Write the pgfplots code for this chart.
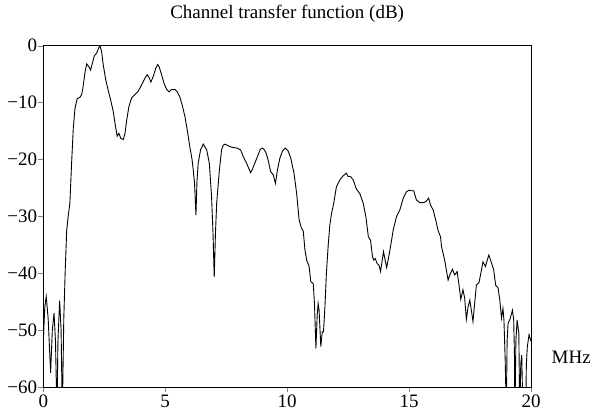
\documentclass[border=0pt]{standalone}
\usepackage{pgfplots}
\pgfplotsset{compat=1.18}
\usepackage{fontspec}
\setmainfont{Liberation Serif}

\begin{document}
\begin{tikzpicture}
\path[use as bounding box] (-43.3bp,-28bp) rectangle (549.7bp,387bp);
\begin{axis}[
  scale only axis, width=487.7bp, height=341.3bp,
  at={(0,0)}, anchor=south west,
  xmin=0, xmax=20, ymin=-60, ymax=0,
  xtick={0,5,10,15,20}, xticklabels={0,5,10,15,20},
  ytick={-60,-50,-40,-30,-20,-10,0},
  yticklabels={−60,−50,−40,−30,−20,−10,0},
  tick align=outside, major tick length=5bp,
  xtick pos=bottom, ytick pos=left,
  ticklabel style={font=\fontsize{19bp}{22bp}\selectfont, inner sep=1bp},
  xticklabel style={yshift=-2bp},
  title={Channel transfer function (dB)},
  title style={font=\fontsize{19bp}{22bp}\selectfont, at={(rel axis cs:0.5,1)}, anchor=base, yshift=21bp},
  xlabel={MHz},
  xlabel style={font=\fontsize{19bp}{22bp}\selectfont, at={(rel axis cs:1.042,0.086)}, anchor=west, inner sep=0pt},
  axis line style={line width=0.8bp},
]
\addplot[black, line width=0.9bp] coordinates {
(0,-52) (0.06,-46) (0.12,-44.1) (0.2,-48) (0.30,-57.5) (0.37,-50) (0.44,-47) (0.50,-52) (0.56,-65) (0.60,-52) (0.67,-44.8) (0.73,-50) (0.78,-65) (0.84,-48) (0.90,-39.4) (0.96,-32.4) (1.02,-30) (1.09,-27.7) (1.16,-20.7) (1.23,-14.5) (1.30,-11) (1.39,-9.3) (1.50,-9.1) (1.57,-8.6) (1.61,-7.8) (1.67,-6) (1.71,-4.7) (1.78,-3.2) (1.87,-3.7) (1.94,-4.3) (2.01,-3.1) (2.09,-1.8) (2.19,-1.3) (2.25,-0.6) (2.32,0) (2.39,-1.0) (2.46,-3.4) (2.56,-6.0) (2.66,-7.8) (2.76,-9.5) (2.87,-11.6) (2.94,-13.6) (3.03,-15.9) (3.10,-15.4) (3.18,-16.3) (3.28,-16.5) (3.35,-15.4) (3.42,-13.1) (3.51,-10.7) (3.62,-9.2) (3.76,-8.6) (3.89,-8.0) (4.03,-6.9) (4.17,-5.7) (4.26,-5.1) (4.34,-5.6) (4.41,-6.4) (4.51,-5.4) (4.61,-4.0) (4.69,-3.3) (4.75,-3.7) (4.85,-5.1) (4.95,-6.6) (5.06,-7.7) (5.16,-8.1) (5.26,-7.7) (5.40,-7.7) (5.49,-8.1) (5.60,-9.0) (5.70,-10.5) (5.81,-12.5) (5.91,-15) (6.01,-17.8) (6.10,-20) (6.15,-21.9) (6.20,-24) (6.26,-29.8) (6.30,-24) (6.35,-20.7) (6.45,-18.3) (6.56,-17.3) (6.70,-18.3) (6.81,-20.7) (6.90,-26.5) (6.96,-33) (7.01,-40.7) (7.06,-33) (7.11,-27.7) (7.22,-21.9) (7.31,-18.3) (7.38,-17.5) (7.45,-17.3) (7.58,-17.6) (7.70,-17.8) (7.79,-17.9) (7.95,-18.0) (8.09,-18.3) (8.20,-19.5) (8.34,-20.7) (8.45,-21.8) (8.50,-22.3) (8.57,-21.8) (8.64,-21) (8.81,-19.2) (8.90,-18.2) (8.99,-18) (9.06,-18.3) (9.13,-18.8) (9.22,-20.1) (9.32,-22.1) (9.43,-22.7) (9.52,-24.2) (9.60,-21.9) (9.70,-19.8) (9.81,-18.5) (9.92,-18.0) (10.04,-18.5) (10.15,-19.8) (10.28,-22.4) (10.39,-26) (10.49,-30.6) (10.58,-32.0) (10.66,-32.6) (10.73,-35.9) (10.80,-37.7) (10.90,-38.8) (10.97,-41.5) (11.07,-41.8) (11.12,-45.3) (11.18,-53.2) (11.23,-47.6) (11.27,-45.3) (11.31,-46.5) (11.38,-52.9) (11.44,-50.3) (11.49,-50.3) (11.55,-45.9) (11.61,-40) (11.68,-35.3) (11.75,-31.5) (11.82,-29.5) (11.91,-27.7) (12.02,-24.8) (12.16,-23.6) (12.29,-22.9) (12.43,-22.4) (12.50,-23) (12.60,-23) (12.71,-23.6) (12.84,-25.2) (12.98,-26) (13.12,-27.7) (13.23,-30.1) (13.33,-33.6) (13.42,-34.2) (13.50,-37.1) (13.55,-37.7) (13.61,-37.4) (13.69,-38.3) (13.77,-38.6) (13.83,-39.7) (13.90,-37.7) (13.95,-36.2) (14.02,-37.7) (14.08,-39) (14.14,-37.7) (14.24,-35.3) (14.35,-32.4) (14.48,-30.1) (14.62,-28.9) (14.76,-26.8) (14.89,-25.7) (15.00,-25.4) (15.10,-25.5) (15.19,-25.5) (15.30,-27.1) (15.44,-27.6) (15.58,-27.6) (15.69,-27.4) (15.80,-26.8) (15.88,-28.0) (15.99,-28.9) (16.09,-30.6) (16.19,-32.5) (16.29,-33.6) (16.33,-35.3) (16.46,-37.7) (16.60,-41.2) (16.67,-40.3) (16.78,-39.3) (16.87,-40.3) (16.97,-39.7) (17.04,-41.8) (17.12,-44.6) (17.21,-42.9) (17.28,-44.4) (17.35,-48.1) (17.42,-45.9) (17.49,-44.7) (17.56,-46.7) (17.62,-48.5) (17.69,-45.3) (17.76,-42.1) (17.87,-41.6) (17.97,-39.4) (18.03,-38) (18.13,-38.8) (18.27,-36.8) (18.38,-38.2) (18.47,-39.4) (18.55,-42.1) (18.65,-42.6) (18.72,-44.7) (18.79,-47.9) (18.85,-46.2) (18.89,-48.2) (18.94,-55) (18.99,-65) (19.02,-52) (19.06,-48.8) (19.13,-48.2) (19.24,-46.5) (19.29,-48.2) (19.32,-54) (19.34,-65) (19.38,-52) (19.43,-48.2) (19.50,-50.5) (19.54,-65) (19.58,-56) (19.62,-54.4) (19.67,-65) (19.78,-65) (19.81,-56) (19.85,-52.9) (19.92,-50.8) (20,-52)
};
\end{axis}
\end{tikzpicture}
\end{document}
